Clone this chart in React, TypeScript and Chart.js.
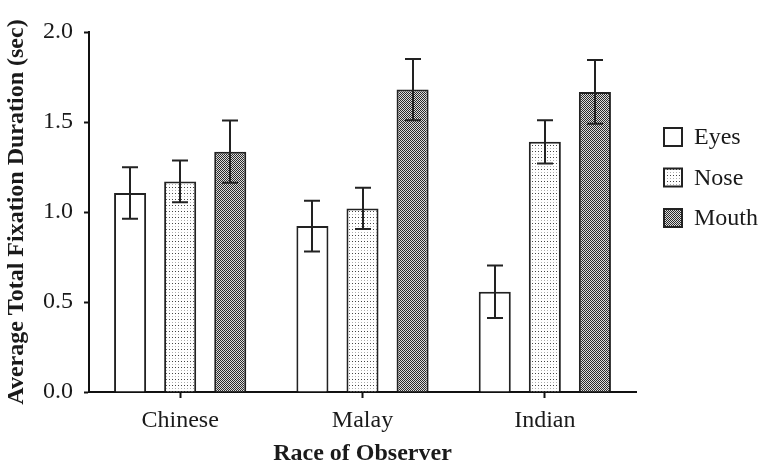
import React, { useEffect, useRef } from "react";
import { Chart, registerables } from "chart.js";

Chart.register(...registerables);

const categories = ["Chinese", "Malay", "Indian"];
const seriesNames = ["Eyes", "Nose", "Mouth"];
const eyesMeans = [1.105, 0.922, 0.557];
const eyesErr = [0.143, 0.141, 0.146];
const noseMeans = [1.17, 1.02, 1.39];
const noseErr = [0.116, 0.115, 0.12];
const mouthMeans = [1.335, 1.68, 1.667];
const mouthErr = [0.173, 0.17, 0.177];
const yMin = 0;
const yMax = 2;
const yStep = 0.5;

const FONT = "'Liberation Serif', 'Times New Roman', serif";
const TEXT = "#1a1a1a";

function makeNosePattern(ctx: CanvasRenderingContext2D) {
  const c = document.createElement("canvas");
  c.width = 3;
  c.height = 6;
  const g = c.getContext("2d")!;
  g.fillStyle = "#ffffff";
  g.fillRect(0, 0, 3, 6);
  g.fillStyle = "#444444";
  g.fillRect(1, 1, 1, 1);
  g.fillStyle = "#b0b0b0";
  g.fillRect(1, 4, 1, 1);
  return ctx.createPattern(c, "repeat")!;
}

function makeMouthPattern(ctx: CanvasRenderingContext2D) {
  const c = document.createElement("canvas");
  c.width = 2;
  c.height = 2;
  const g = c.getContext("2d")!;
  g.fillStyle = "#dcdcdc";
  g.fillRect(0, 0, 2, 2);
  g.fillStyle = "#2a2a2a";
  g.fillRect(0, 0, 1, 1);
  g.fillRect(1, 1, 1, 1);
  return ctx.createPattern(c, "repeat")!;
}

export default function App() {
  const ref = useRef<HTMLCanvasElement>(null);

  useEffect(() => {
    document.body.style.margin = "0";
    const canvas = ref.current!;
    const ctx = canvas.getContext("2d")!;
    const fills = ["#ffffff", makeNosePattern(ctx), makeMouthPattern(ctx)];
    const means = [eyesMeans, noseMeans, mouthMeans];
    const errs = [eyesErr, noseErr, mouthErr];

    const errorBars = {
      id: "errorBars",
      afterDatasetsDraw(chart: any) {
        const c = chart.ctx;
        const ys = chart.scales.y;
        c.save();
        c.strokeStyle = "#222";
        c.lineWidth = 2;
        chart.data.datasets.forEach((ds: any, i: number) => {
          const meta = chart.getDatasetMeta(i);
          meta.data.forEach((bar: any, j: number) => {
            const m = ds.data[j];
            const e = ds.errors[j];
            const x = Math.round(bar.x);
            const yt = ys.getPixelForValue(m + e);
            const yb = ys.getPixelForValue(m - e);
            const cap = 8;
            c.beginPath();
            c.moveTo(x, yt);
            c.lineTo(x, yb);
            c.moveTo(x - cap, yt);
            c.lineTo(x + cap, yt);
            c.moveTo(x - cap, yb);
            c.lineTo(x + cap, yb);
            c.stroke();
          });
        });
        c.restore();
      },
    };

    const legendPlugin = {
      id: "customLegend",
      afterDraw(chart: any) {
        const c = chart.ctx;
        const area = chart.chartArea;
        const x0 = area.right + 28;
        const y0 = area.top + 105;
        const gap = 40.5;
        c.save();
        c.font = `24px ${FONT}`;
        c.textBaseline = "middle";
        c.textAlign = "left";
        chart.data.datasets.forEach((ds: any, i: number) => {
          const cy = y0 + i * gap;
          c.fillStyle = ds.backgroundColor;
          c.fillRect(x0, cy - 9, 18, 18);
          c.strokeStyle = "#222";
          c.lineWidth = 2;
          c.strokeRect(x0, cy - 9, 18, 18);
          c.fillStyle = TEXT;
          c.fillText(ds.label, x0 + 30, cy + 1);
        });
        c.restore();
      },
    };

    const chart = new Chart(ctx, {
      type: "bar",
      data: {
        labels: categories,
        datasets: seriesNames.map((name, i) => ({
          label: name,
          data: means[i],
          errors: errs[i],
          backgroundColor: fills[i] as any,
          borderColor: "#222",
          borderWidth: 2,
          categoryPercentage: 0.824,
          barPercentage: 0.64,
        })) as any,
      },
      options: {
        responsive: false,
        animation: false,
        layout: { padding: { top: 32, right: 124, left: 0, bottom: 0 } },
        plugins: {
          legend: { display: false },
          tooltip: { enabled: false },
        },
        scales: {
          x: {
            grid: {
              display: true,
              drawOnChartArea: false,
              offset: false,
              tickLength: 6,
              tickWidth: 2,
              tickColor: "#111",
            },
            border: { display: true, color: "#111", width: 2 },
            ticks: {
              color: TEXT,
              font: { family: FONT, size: 24 },
              padding: 8,
            },
            title: {
              display: true,
              text: "Race of Observer",
              color: TEXT,
              font: { family: FONT, size: 24, weight: "bold", lineHeight: 1.0 },
              padding: { top: 0, bottom: 0 },
            },
            afterFit(scale: any) {
              scale.height = 74;
            },
          },
          y: {
            min: yMin,
            max: yMax,
            grid: {
              display: true,
              drawOnChartArea: false,
              tickLength: 5,
              tickWidth: 2,
              tickColor: "#111",
            },
            border: { display: true, color: "#111", width: 2 },
            ticks: {
              stepSize: yStep,
              color: TEXT,
              font: { family: FONT, size: 24 },
              padding: 11,
              callback: (v: any) => Number(v).toFixed(1),
            },
            title: {
              display: true,
              text: "Average Total Fixation Duration (sec)",
              color: TEXT,
              font: { family: FONT, size: 24, weight: "bold", lineHeight: 1.0 },
              padding: { top: 5, bottom: 0 },
            },
            afterFit(scale: any) {
              scale.width = 89;
            },
          },
        },
      },
      plugins: [errorBars, legendPlugin],
    });
    return () => chart.destroy();
  }, []);

  return <canvas ref={ref} width={760} height={466} style={{ display: "block" }} />;
}
